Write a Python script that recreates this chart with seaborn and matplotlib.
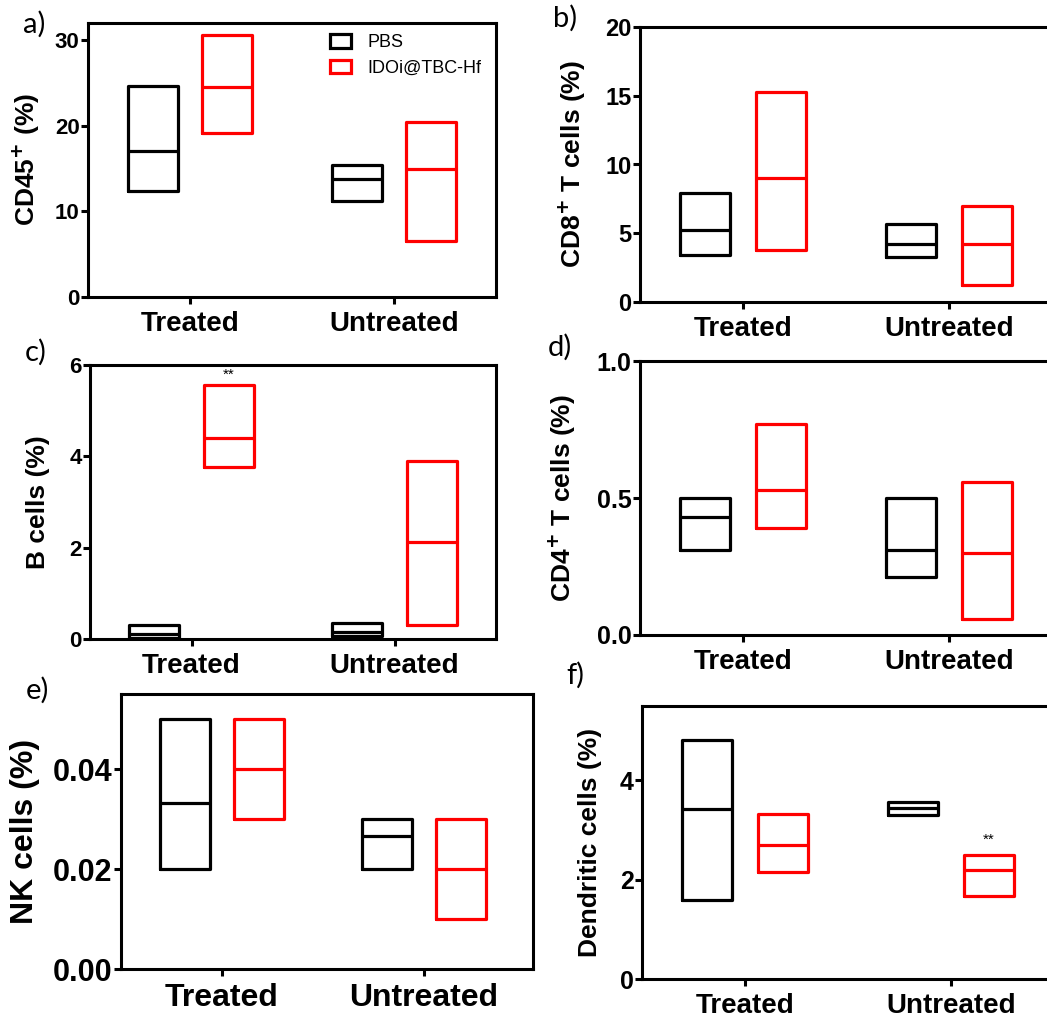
import numpy as np
import pandas as pd
import matplotlib
matplotlib.use("Agg")
import matplotlib.pyplot as plt
from matplotlib.patches import Patch
import seaborn as sns

# ---- data: min / median / max for each group -------------------------------
groups = ["Treated", "Untreated"]
treatments = ["PBS", "IDOi@TBC-Hf"]

cd45_pbs_lo, cd45_pbs_med, cd45_pbs_hi = [12.4, 11.2], [17.1, 13.8], [24.6, 15.4]
cd45_ido_lo, cd45_ido_med, cd45_ido_hi = [19.2, 6.5], [24.5, 14.9], [30.6, 20.4]

cd8_pbs_lo, cd8_pbs_med, cd8_pbs_hi = [3.4, 3.3], [5.2, 4.25], [7.95, 5.7]
cd8_ido_lo, cd8_ido_med, cd8_ido_hi = [3.8, 1.27], [9.0, 4.2], [15.25, 6.97]

bcell_pbs_lo, bcell_pbs_med, bcell_pbs_hi = [0.03, 0.06], [0.12, 0.15], [0.31, 0.36]
bcell_ido_lo, bcell_ido_med, bcell_ido_hi = [3.76, 0.31], [4.41, 2.12], [5.56, 3.90]

cd4_pbs_lo, cd4_pbs_med, cd4_pbs_hi = [0.31, 0.21], [0.43, 0.31], [0.50, 0.50]
cd4_ido_lo, cd4_ido_med, cd4_ido_hi = [0.39, 0.06], [0.53, 0.30], [0.77, 0.56]

nk_pbs_lo, nk_pbs_med, nk_pbs_hi = [0.020, 0.020], [0.0333, 0.0267], [0.050, 0.030]
nk_ido_lo, nk_ido_med, nk_ido_hi = [0.030, 0.010], [0.040, 0.020], [0.050, 0.030]

dc_pbs_lo, dc_pbs_med, dc_pbs_hi = [1.60, 3.30], [3.43, 3.45], [4.82, 3.57]
dc_ido_lo, dc_ido_med, dc_ido_hi = [2.16, 1.67], [2.69, 2.20], [3.33, 2.49]

# ---- style -----------------------------------------------------------------
sns.set_theme(style="ticks")
plt.rcParams["font.family"] = ["Liberation Sans", "DejaVu Sans"]
plt.rcParams["axes.linewidth"] = 2.2
plt.rcParams["xtick.major.width"] = 2.2
plt.rcParams["ytick.major.width"] = 2.2
plt.rcParams["xtick.major.size"] = 5
plt.rcParams["ytick.major.size"] = 5
plt.rcParams["xtick.color"] = "black"
plt.rcParams["ytick.color"] = "black"
plt.rcParams["axes.edgecolor"] = "black"
plt.rcParams["axes.labelcolor"] = "black"
plt.rcParams["text.color"] = "black"

palette = {"PBS": "black", "IDOi@TBC-Hf": "#ff0000"}

W, H = 1047, 1021
fig = plt.figure(figsize=(W / 100, H / 100), dpi=100)


def px_axes(left, top, right, bottom):
    return fig.add_axes([left / W, 1 - bottom / H, (right - left) / W, (bottom - top) / H])


def summary_frame(pbs, ido):
    """Rows whose quartiles equal the min/max and whose median is the median."""
    rows = []
    for name, (lo, med, hi) in zip(treatments, [pbs, ido]):
        for g, a, m, b in zip(groups, lo, med, hi):
            for v in (a, a, m, b, b):
                rows.append({"group": g, "treatment": name, "value": v})
    return pd.DataFrame(rows)


panels = [
    dict(letter="a)", lpos=(34, 24), box=(88, 23, 496, 297),
         ylabel=r"CD45$^{\mathbf{+}}$ (%)", ylim=(0, 32), yticks=[0, 10, 20, 30], fmt="{:.0f}",
         pbs=(cd45_pbs_lo, cd45_pbs_med, cd45_pbs_hi), ido=(cd45_ido_lo, cd45_ido_med, cd45_ido_hi),
         tick_fs=16, cat_fs=20, lab_fs=19, lab_x=42, xlim=(-0.5, 1.5)),
    dict(letter="b)", lpos=(565, 18), box=(640, 27, 1052, 302),
         ylabel=r"CD8$^{\mathbf{+}}$ T cells (%)", ylim=(0, 20), yticks=[0, 5, 10, 15, 20], fmt="{:.0f}",
         pbs=(cd8_pbs_lo, cd8_pbs_med, cd8_pbs_hi), ido=(cd8_ido_lo, cd8_ido_med, cd8_ido_hi),
         tick_fs=17, cat_fs=20, lab_fs=19, lab_x=588, xlim=(-0.5, 1.5)),
    dict(letter="c)", lpos=(36, 352), box=(90, 365, 496, 639),
         ylabel="B cells (%)", ylim=(0, 6), yticks=[0, 2, 4, 6], fmt="{:.0f}",
         pbs=(bcell_pbs_lo, bcell_pbs_med, bcell_pbs_hi), ido=(bcell_ido_lo, bcell_ido_med, bcell_ido_hi),
         tick_fs=16, cat_fs=20, lab_fs=19, lab_x=50, xlim=(-0.5, 1.5)),
    dict(letter="d)", lpos=(560, 347), box=(640, 361, 1052, 635),
         ylabel=r"CD4$^{\mathbf{+}}$ T cells (%)", ylim=(0, 1.0), yticks=[0, 0.5, 1.0], fmt="{:.1f}",
         pbs=(cd4_pbs_lo, cd4_pbs_med, cd4_pbs_hi), ido=(cd4_ido_lo, cd4_ido_med, cd4_ido_hi),
         tick_fs=18, cat_fs=20, lab_fs=19, lab_x=578, xlim=(-0.5, 1.5)),
    dict(letter="e)", lpos=(37, 690), box=(121, 694, 533, 969),
         ylabel="NK cells (%)", ylim=(0, 0.055), yticks=[0, 0.02, 0.04], fmt="{:.2f}",
         pbs=(nk_pbs_lo, nk_pbs_med, nk_pbs_hi), ido=(nk_ido_lo, nk_ido_med, nk_ido_hi),
         tick_fs=22, cat_fs=23, lab_fs=23, lab_x=40, xlim=(-0.5, 1.54)),
    dict(letter="f)", lpos=(575, 675), box=(642, 706, 1054, 979),
         ylabel="Dendritic cells (%)", ylim=(0, 5.5), yticks=[0, 2, 4], fmt="{:.0f}",
         pbs=(dc_pbs_lo, dc_pbs_med, dc_pbs_hi), ido=(dc_ido_lo, dc_ido_med, dc_ido_hi),
         tick_fs=18, cat_fs=20, lab_fs=19, lab_x=602, xlim=(-0.5, 1.5)),
]

axes = {}
for p in panels:
    ax = px_axes(*p["box"])
    df = summary_frame(p["pbs"], p["ido"])
    sns.boxplot(data=df, x="group", y="value", hue="treatment", order=groups,
                hue_order=treatments, palette=palette, fill=False, width=0.735,
                gap=0.333, linewidth=2.3, whis=(0, 100), showcaps=False,
                showfliers=False, whiskerprops={"linewidth": 0}, legend=False, ax=ax)
    ax.set_xlim(*p["xlim"])
    ax.set_ylim(*p["ylim"])
    ax.set_yticks(p["yticks"])
    ax.set_yticklabels([p["fmt"].format(v) for v in p["yticks"]],
                       fontsize=p["tick_fs"], fontweight="bold")
    ax.set_xticks([0, 1])
    ax.set_xticklabels(groups, fontsize=p["cat_fs"], fontweight="bold")
    ax.tick_params(axis="y", pad=1)
    ax.tick_params(axis="x", pad=5)
    ax.set_xlabel("")
    ax.set_ylabel(p["ylabel"], fontsize=p["lab_fs"], fontweight="bold", color="black")
    left = p["box"][0]
    width = p["box"][2] - p["box"][0]
    ax.yaxis.set_label_coords((p["lab_x"] - left) / width, 0.5)
    for s in ax.spines.values():
        s.set_visible(True)
        s.set_color("black")
        s.set_linewidth(2.2)
    fig.text(p["lpos"][0] / W, 1 - p["lpos"][1] / H, p["letter"], fontsize=21,
             family=["Lato", "DejaVu Sans"], ha="center", va="center", color="black")
    axes[p["letter"]] = ax

# significance marks
axes["c)"].text(0.184, 5.78, "**", ha="center", va="center", fontsize=11)
axes["f)"].text(1.184, 2.80, "**", ha="center", va="center", fontsize=11)

# legend in panel a
handles = [Patch(facecolor="none", edgecolor=palette[t], linewidth=2.3, label=t) for t in treatments]
axes["a)"].legend(handles=handles, loc="upper left", bbox_to_anchor=(0.575, 0.985),
                  frameon=False, fontsize=13, handlelength=1.2, handleheight=0.75,
                  labelspacing=0.45, handletextpad=0.9, borderaxespad=0)

fig.savefig("out.png", dpi=100)
